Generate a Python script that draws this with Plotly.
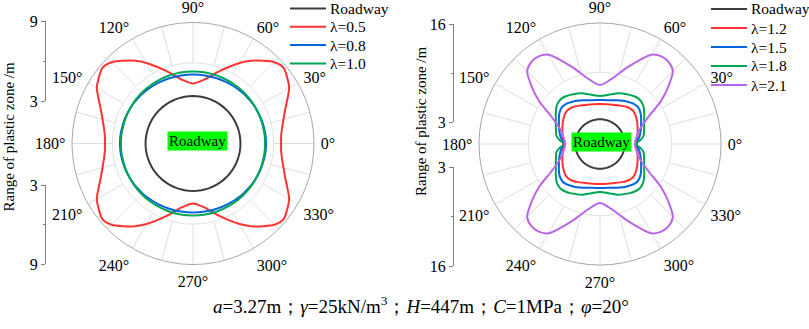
import plotly.graph_objects as go

# ---------------- data ----------------
# sample angles (deg) of one quadrant; curves are symmetric about both axes
QUAD_DEG = [0, 5, 10, 20, 30, 35, 40, 45, 50, 55, 60, 70, 80, 90]

# Left panel: plastic-zone range (m)
left_roadway_r = 3.53
left_l05 = [6.55, 6.58, 6.73, 7.29, 8.26, 8.55, 8.78, 8.55, 8.03, 7.51, 6.92, 5.73, 4.83, 4.46]
left_l08 = [5.43, 5.43, 5.42, 5.39, 5.35, 5.33, 5.30, 5.28, 5.25, 5.22, 5.20, 5.16, 5.14, 5.13]
left_l10 = [5.36, 5.36, 5.36, 5.36, 5.36, 5.36, 5.36, 5.36, 5.36, 5.36, 5.36, 5.36, 5.36, 5.36]
left_names = ["Roadway", "λ=0.5", "λ=0.8", "λ=1.0"]

# Right panel: plastic-zone range (m)
right_roadway_r = 3.27
right_l12 = [4.89, 4.93, 5.02, 5.29, 5.69, 5.88, 6.08, 6.19, 6.15, 6.02, 5.82, 5.49, 5.33, 5.29]
right_l15 = [4.76, 5.02, 5.29, 5.75, 6.28, 6.61, 6.88, 7.01, 6.94, 6.74, 6.55, 6.15, 5.88, 5.82]
right_l18 = [4.76, 5.29, 5.82, 6.21, 6.74, 7.14, 7.54, 7.80, 7.87, 7.74, 7.54, 7.14, 6.61, 6.35]
right_l21 = [4.63, 4.69, 4.89, 5.55, 7.54, 9.79, 11.77, 13.62, 14.15, 14.15, 13.62, 10.84, 8.73, 7.80]
right_names = ["Roadway", "λ=1.2", "λ=1.5", "λ=1.8", "λ=2.1"]

left_rmax, left_rmid = 9, 6
right_rmax, right_rmid = 16, 9.5
left_ticks = [3, 9]
right_ticks = [3, 16]

caption = ("<i>a</i>=3.27m；<i>γ</i>=25kN/m<sup>3</sup>；<i>H</i>=447m；"
           "<i>C</i>=1MPa；<i>φ</i>=20°")

# ---------------- styling ----------------
FONT = "Liberation Serif"
C_ROAD = "#3d3d3d"
COLORS_L = ["#ff3333", "#0066e0", "#00a652"]
COLORS_R = ["#ff3333", "#0066e0", "#00a652", "#b866e6"]
W, H = 809, 329


def closed_curve(qdeg, qr):
    th = (list(qdeg)
          + [180 - a for a in reversed(qdeg[:-1])]
          + [180 + a for a in qdeg[1:]]
          + [360 - a for a in reversed(qdeg[:-1])])
    r = list(qr) + list(reversed(qr[:-1])) + list(qr[1:]) + list(reversed(qr[:-1]))
    return th, r


def spokes(rmid, rmax):
    r, th = [], []
    for a in range(0, 360, 15):
        r += [rmid, rmax, None]
        th += [a, a, None]
    return r, th


fig = go.Figure()
shapes, annotations = [], []


def add_legend(names, colors, x_line0, x_line1, x_text, y_first, step):
    for i, (nm, col) in enumerate(zip(names, colors)):
        yy = (H - (y_first + i * step)) / H
        shapes.append(dict(type="line", xref="paper", yref="paper",
                           x0=x_line0 / W, x1=x_line1 / W, y0=yy, y1=yy,
                           line=dict(color=col, width=2)))
        annotations.append(dict(text=nm, x=x_text / W, y=yy, xref="paper", yref="paper",
                                xanchor="left", yanchor="middle", showarrow=False,
                                font=dict(size=15.5)))


def add_panel(polar, rmid, rmax, road_r, series, names, colors):
    sr, sth = spokes(rmid, rmax)
    fig.add_trace(go.Scatterpolar(r=sr, theta=sth, mode="lines", subplot=polar,
                                  line=dict(color="#dedede", width=1),
                                  showlegend=False, hoverinfo="skip"))
    th_c = list(range(0, 361, 5))
    fig.add_trace(go.Scatterpolar(r=[road_r] * len(th_c), theta=th_c, mode="lines",
                                  subplot=polar, name=names[0], showlegend=False,
                                  line=dict(color=C_ROAD, width=2)))
    for vals, nm, col in zip(series, names[1:], colors):
        th, r = closed_curve(QUAD_DEG, vals)
        fig.add_trace(go.Scatterpolar(r=r, theta=th, mode="lines", subplot=polar,
                                      name=nm, showlegend=False,
                                      line=dict(color=col, width=2, shape="spline",
                                                smoothing=0.8)))


add_panel("polar", left_rmid, left_rmax, left_roadway_r,
          [left_l05, left_l08, left_l10], left_names, COLORS_L)
add_panel("polar2", right_rmid, right_rmax, right_roadway_r,
          [right_l12, right_l15, right_l18, right_l21], right_names, COLORS_R)

add_legend(left_names, [C_ROAD] + COLORS_L, 290, 326, 328, 8.5, 18.3)
add_legend(right_names, [C_ROAD] + COLORS_R, 711, 747, 749, 9.0, 19.0)

# dummy traces so the side radial scales (cartesian) are drawn
for xa, ya in [("x", "y"), ("x", "y2"), ("x2", "y3"), ("x2", "y4")]:
    fig.add_trace(go.Scatter(x=[None], y=[None], xaxis=xa, yaxis=ya,
                             showlegend=False, hoverinfo="skip"))


def polar_layout(cx, cy, rad, rmax, rmid):
    return dict(
        domain=dict(x=[(cx - rad) / W, (cx + rad) / W],
                    y=[(H - cy - rad) / H, (H - cy + rad) / H]),
        bgcolor="white",
        angularaxis=dict(rotation=0, direction="counterclockwise", tickmode="linear",
                         tick0=0, dtick=30, ticksuffix="°", showgrid=False,
                         linecolor="#a8a8a8", linewidth=1, ticks="outside", ticklen=3,
                         tickcolor="rgba(0,0,0,0)",
                         tickfont=dict(family=FONT, size=16, color="black")),
        radialaxis=dict(range=[0, rmax], tickvals=[rmid], showticklabels=False,
                        ticks="", showline=False, gridcolor="#e2e2e2", gridwidth=1),
    )


def side_axis(ylo_px, yhi_px, rng, ticks, minor, xpos):
    return dict(domain=[(H - ylo_px) / H, (H - yhi_px) / H], range=rng,
                anchor="free", position=xpos / W, side="left",
                tickvals=ticks, ticks="outside", ticklen=4, tickcolor="#808080",
                minor=dict(tickvals=[minor], ticks="outside", ticklen=2, tickcolor="#808080"),
                showline=True, linecolor="#808080", linewidth=1,
                showgrid=False, zeroline=False, automargin=False,
                tickfont=dict(family=FONT, size=16, color="black"))


annotations += [
    dict(text="Range of plastic zone /m", x=8 / W, y=(H - 137.5) / H,
         xref="paper", yref="paper", textangle=-90, showarrow=False,
         xanchor="center", yanchor="middle", font=dict(size=15)),
    dict(text="Range of plastic zone /m", x=421 / W, y=(H - 122) / H,
         xref="paper", yref="paper", textangle=-90, showarrow=False,
         xanchor="center", yanchor="middle", font=dict(size=15)),
    dict(text="Roadway", x=197.5 / W, y=(H - 141) / H, xref="paper", yref="paper",
         xanchor="center", yanchor="middle",
         showarrow=False, bgcolor="#00ff00", borderpad=1, font=dict(size=15)),
    dict(text="Roadway", x=601 / W, y=(H - 141.5) / H, xref="paper", yref="paper",
         xanchor="center", yanchor="middle",
         showarrow=False, bgcolor="#00ff00", borderpad=1, font=dict(size=15)),
    dict(text=caption, x=421 / W, y=(H - 305) / H, xref="paper", yref="paper",
         showarrow=False, xanchor="center", yanchor="middle", font=dict(size=19)),
]

fig.update_layout(
    width=W, height=H, margin=dict(l=0, r=0, t=0, b=0, autoexpand=False),
    paper_bgcolor="white", plot_bgcolor="rgba(0,0,0,0)",
    font=dict(family=FONT, size=16, color="black"),
    showlegend=False,
    polar=polar_layout(193, 143.5, 121, left_rmax, left_rmid),
    polar2=polar_layout(600, 144, 121, right_rmax, right_rmid),
    xaxis=dict(domain=[0, 0.05], range=[0, 1], visible=False),
    xaxis2=dict(domain=[0.5, 0.55], range=[0, 1], visible=False),
    yaxis=side_axis(101, 21, [3, 9], left_ticks, left_rmid, 45),
    yaxis2=side_axis(264, 185, [9, 3], left_ticks, left_rmid, 45),
    yaxis3=side_axis(122, 24, [3, 16], right_ticks, right_rmid, 453),
    yaxis4=side_axis(266, 167, [16, 3], right_ticks, right_rmid, 453),
    shapes=shapes,
    annotations=annotations,
)

fig.write_html("out.html", config={"displayModeBar": False},
               post_script="document.body.style.margin='0px';document.body.style.padding='0px';")
